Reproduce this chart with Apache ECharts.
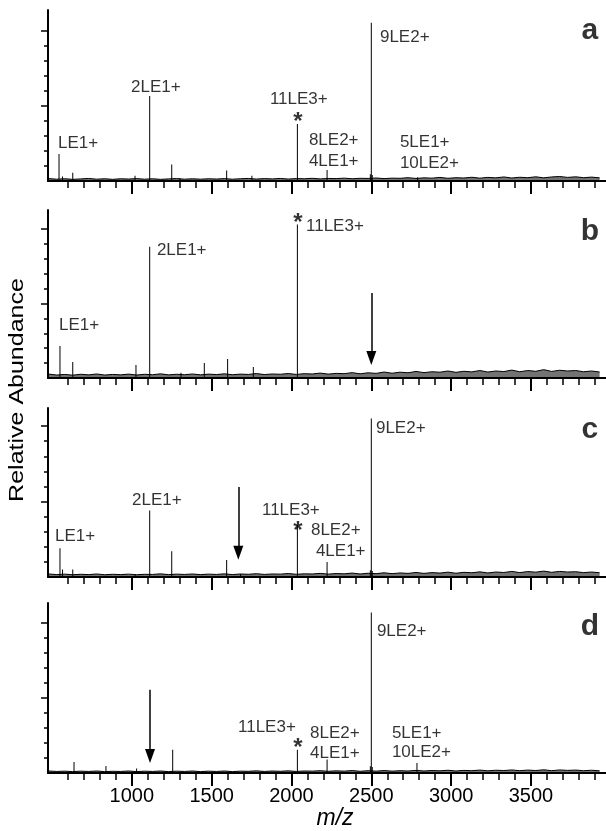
<!DOCTYPE html>
<html><head><meta charset="utf-8">
<script src="https://cdn.jsdelivr.net/npm/echarts@6/dist/echarts.min.js"></script>
<style>html,body{margin:0;padding:0;background:#fff}#c{width:606px;height:831px}</style>
</head><body><div id="c"></div>
<script>
// ---- axis / tick data ----
const xTickLabels = [1000, 1500, 2000, 2500, 3000, 3500];
const xMinorTicks = [600,700,800,900,1100,1200,1300,1400,1600,1700,1800,1900,2100,2200,2300,2400,2600,2700,2800,2900,3100,3200,3300,3400,3600,3700,3800,3900];
const yMajorTicks = [5, 10];
const yMinorTicks = [1, 2, 3, 4, 6, 7, 8, 9];
const panelLetters = ['a', 'b', 'c', 'd'];

const noiseStart = 480, noiseStep = 50;
const noiseA = [0.16,0.12,0.15,0.11,0.14,0.17,0.12,0.15,0.11,0.15,
0.13,0.16,0.12,0.15,0.11,0.14,0.16,0.12,0.15,0.12,
0.15,0.13,0.16,0.12,0.15,0.17,0.13,0.16,0.14,0.17,
0.13,0.16,0.15,0.18,0.14,0.17,0.16,0.19,0.15,0.18,
0.17,0.20,0.16,0.19,0.18,0.22,0.17,0.21,0.19,0.24,
0.18,0.22,0.20,0.25,0.19,0.24,0.21,0.27,0.20,0.25,
0.22,0.28,0.21,0.27,0.30,0.24,0.28,0.22,0.26,0.21];
const noiseB = [0.26,0.20,0.24,0.19,0.25,0.21,0.27,0.20,0.24,0.21,
0.26,0.20,0.25,0.22,0.28,0.21,0.25,0.22,0.27,0.21,
0.26,0.23,0.28,0.22,0.26,0.24,0.30,0.23,0.27,0.25,
0.30,0.24,0.29,0.27,0.33,0.26,0.31,0.29,0.36,0.28,
0.35,0.31,0.40,0.32,0.39,0.35,0.44,0.36,0.42,0.39,
0.47,0.38,0.45,0.41,0.50,0.40,0.47,0.43,0.53,0.42,
0.50,0.45,0.56,0.44,0.52,0.47,0.50,0.42,0.47,0.40];
const noiseC = [0.20,0.16,0.19,0.15,0.18,0.16,0.20,0.15,0.18,0.16,
0.19,0.15,0.18,0.17,0.21,0.16,0.19,0.17,0.20,0.16,
0.19,0.17,0.21,0.16,0.20,0.18,0.22,0.17,0.20,0.19,
0.23,0.18,0.21,0.20,0.24,0.19,0.23,0.21,0.26,0.20,
0.25,0.22,0.28,0.22,0.27,0.24,0.30,0.24,0.29,0.26,
0.32,0.25,0.31,0.28,0.34,0.27,0.33,0.30,0.37,0.29,
0.36,0.32,0.39,0.31,0.37,0.33,0.35,0.29,0.33,0.28];
const noiseD = [0.14,0.11,0.13,0.10,0.13,0.11,0.14,0.10,0.12,0.11,
0.14,0.10,0.13,0.11,0.14,0.10,0.13,0.11,0.14,0.10,
0.13,0.11,0.14,0.10,0.13,0.12,0.15,0.11,0.14,0.12,
0.15,0.11,0.14,0.13,0.16,0.12,0.15,0.13,0.17,0.12,
0.16,0.13,0.17,0.13,0.16,0.14,0.18,0.14,0.17,0.15,
0.19,0.14,0.18,0.16,0.20,0.15,0.19,0.17,0.21,0.16,
0.20,0.17,0.22,0.16,0.21,0.18,0.20,0.16,0.19,0.15];

// ---- peaks (m/z, relative abundance) ----
const peaksA_mz = [544, 566, 630, 1020, 1112, 1250, 1301, 1594, 1752, 2037, 2223, 2494, 2500, 2506, 2790];
const peaksA_h  = [1.8, 0.3, 0.55, 0.35, 5.67, 1.1, 0.2, 0.7, 0.35, 3.8, 0.73, 0.45, 10.55, 0.4, 0.25];
const peaksB_mz = [550, 630, 1026, 1112, 1308, 1454, 1600, 1761, 2037];
const peaksB_h  = [2.15, 1.07, 0.87, 8.8, 0.35, 1.0, 1.27, 0.73, 10.3];
const peaksC_mz = [550, 566, 630, 1020, 1112, 1250, 1594, 1681, 2037, 2223, 2494, 2500, 2506];
const peaksC_h  = [1.9, 0.5, 0.5, 0.2, 4.4, 1.7, 1.13, 0.2, 3.45, 1.0, 0.45, 10.5, 0.4];
const peaksD_mz = [638, 838, 1030, 1256, 2037, 2223, 2494, 2500, 2506, 2786];
const peaksD_h  = [0.73, 0.47, 0.3, 1.55, 1.55, 0.9, 0.45, 10.67, 0.4, 0.67];

// ---- annotations: [text, m/z anchor, abundance anchor, kind] ----
const labelsA = [['LE1+',538,2.53,'l'],['2LE1+',995,6.27,'l'],['11LE3+',1865,5.47,'l'],['*',2040,4.27,'s'],
  ['8LE2+',2109,2.73,'l'],['4LE1+',2109,1.33,'l'],['9LE2+',2554,9.6,'l'],['5LE1+',2679,2.6,'l'],['10LE2+',2679,1.2,'l']];
const labelsB = [['LE1+',544,3.51,'l'],['2LE1+',1157,8.54,'l'],['*',2040,10.74,'s'],['11LE3+',2091,10.15,'l']];
const labelsC = [['LE1+',519,2.67,'l'],['2LE1+',1001,5.1,'l'],['11LE3+',1815,4.44,'l'],['*',2040,3.33,'s'],
  ['8LE2+',2122,3.11,'l'],['4LE1+',2153,1.68,'l'],['9LE2+',2529,9.87,'l']];
const labelsD = [['11LE3+',1665,3.03,'l'],['*',2040,1.97,'s'],['8LE2+',2116,2.63,'l'],['4LE1+',2116,1.32,'l'],
  ['9LE2+',2535,9.41,'l'],['5LE1+',2629,2.63,'l'],['10LE2+',2629,1.38,'l']];
const letterPos = [[3869,10.0],[3869,9.82],[3869,9.74],[3869,9.74]];
// arrows: [m/z, top, tip]
const arrowsA = [];
const arrowsB = [[2500, 5.7, 0.87]];
const arrowsC = [[1667, 5.96, 1.13]];
const arrowsD = [[1114, 5.53, 0.66]];

// ---- layout ----
const gridTops = [10, 210, 408, 603];
const gridHeights = [171, 168, 169, 172];
const yMaxes = [11.4, 11.27, 11.2, 11.3];
const X_MIN = 475, X_MAX = 3970;

const noises = [noiseA, noiseB, noiseC, noiseD];
const peaksMz = [peaksA_mz, peaksB_mz, peaksC_mz, peaksD_mz];
const peaksH = [peaksA_h, peaksB_h, peaksC_h, peaksD_h];
const labels = [labelsA, labelsB, labelsC, labelsD];
const arrows = [arrowsA, arrowsB, arrowsC, arrowsD];

const FONT = "'Liberation Sans', Arial, sans-serif";
const NARROW = "'Liberation Sans Narrow', 'Liberation Sans', Arial, sans-serif";

const grids = [], xAxes = [], yAxes = [], series = [];
for (let i = 0; i < 4; i++) {
  grids.push({ left: 48, right: 0, top: gridTops[i], height: gridHeights[i], containLabel: false });
  const isLast = i === 3;
  xAxes.push({
    type: 'value', gridIndex: i, position: 'bottom', offset: 0, min: X_MIN, max: X_MAX,
    axisLine: { show: true, onZero: false, lineStyle: { color: '#000', width: 2 } },
    axisTick: { show: true, inside: false, customValues: xTickLabels, length: 13, lineStyle: { color: '#000', width: 2 } },
    axisLabel: { show: isLast, customValues: xTickLabels, margin: 13, color: '#000', fontSize: 20, fontFamily: NARROW,
      formatter: v => String(v) },
    splitLine: { show: false },
    name: isLast ? 'm/z' : '', nameLocation: 'middle', nameGap: 31,
    nameTextStyle: { fontStyle: 'italic', fontSize: 23, color: '#000', fontFamily: FONT, padding: [0, 0, 0, 16] }
  });
  xAxes.push({
    type: 'value', gridIndex: i, position: 'bottom', offset: 0, min: X_MIN, max: X_MAX,
    axisLine: { show: false, onZero: false },
    axisTick: { show: true, inside: false, customValues: xMinorTicks, length: 7, lineStyle: { color: '#000', width: 1.5 } },
    axisLabel: { show: false }, splitLine: { show: false }
  });
  yAxes.push({
    type: 'value', gridIndex: i, position: 'left', offset: 0, min: 0, max: yMaxes[i],
    axisLine: { show: true, onZero: false, lineStyle: { color: '#000', width: 2 } },
    axisTick: { show: true, inside: false, customValues: yMajorTicks, length: 7, lineStyle: { color: '#000', width: 1.5 } },
    axisLabel: { show: false }, splitLine: { show: false }
  });
  yAxes.push({
    type: 'value', gridIndex: i, position: 'left', offset: 0, min: 0, max: yMaxes[i],
    axisLine: { show: false, onZero: false },
    axisTick: { show: true, inside: false, customValues: yMinorTicks, length: 4, lineStyle: { color: '#000', width: 1.5 } },
    axisLabel: { show: false }, splitLine: { show: false }
  });
  // baseline noise
  series.push({
    type: 'line', xAxisIndex: 2 * i, yAxisIndex: 2 * i,
    data: noises[i].map((v, k) => [noiseStart + k * noiseStep, v]),
    symbol: 'none', lineStyle: { color: '#000', width: 1 },
    areaStyle: { color: '#000', opacity: 0.55, origin: 0 },
    animation: false, silent: true, z: 3
  });
  // peaks as thin sticks
  series.push({
    type: 'bar', xAxisIndex: 2 * i, yAxisIndex: 2 * i,
    data: peaksMz[i].map((mz, k) => [mz, peaksH[i][k]]),
    barWidth: 1, itemStyle: { color: '#000' }, animation: false, silent: true, z: 4
  });
  const labData = labels[i].map(l => {
    let lab;
    if (l[3] === 's') {
      lab = { show: true, formatter: l[0], position: 'inside', fontSize: 24, fontWeight: 'bold', color: '#000', fontFamily: FONT, offset: [0, 5] };
    } else {
      lab = { show: true, formatter: l[0], position: 'right', distance: 0, fontSize: 17, color: '#000', fontFamily: FONT };
    }
    return { value: [l[1], l[2]], label: lab };
  });
  labData.push({ value: letterPos[i], label: { show: true, formatter: panelLetters[i], position: 'inside', fontSize: 30, fontWeight: 'bold', color: '#000', fontFamily: NARROW } });
  series.push({
    type: 'scatter', xAxisIndex: 2 * i, yAxisIndex: 2 * i, symbolSize: 0, data: labData,
    animation: false, silent: true, z: 5,
    markLine: {
      silent: true, animation: false, symbol: ['none', 'triangle'], symbolSize: [10, 14],
      label: { show: false }, lineStyle: { color: '#000', width: 1.5, type: 'solid' },
      data: arrows[i].map(a => [{ coord: [a[0], a[1]] }, { coord: [a[0], a[2] + 0.47] }])
    }
  });
}

const chart = echarts.init(document.getElementById('c'), null, { renderer: 'canvas' });
chart.setOption({
  backgroundColor: '#fff',
  animation: false,
  grid: grids, xAxis: xAxes, yAxis: yAxes, series: series,
  graphic: [{
    type: 'text', x: 17, y: 390, rotation: Math.PI / 2, scaleY: 0.8,
    style: { text: 'Relative Abundance', font: "25px 'Liberation Sans', Arial, sans-serif", fill: '#000', textAlign: 'center', textVerticalAlign: 'middle' }
  }]
});
</script></body></html>
